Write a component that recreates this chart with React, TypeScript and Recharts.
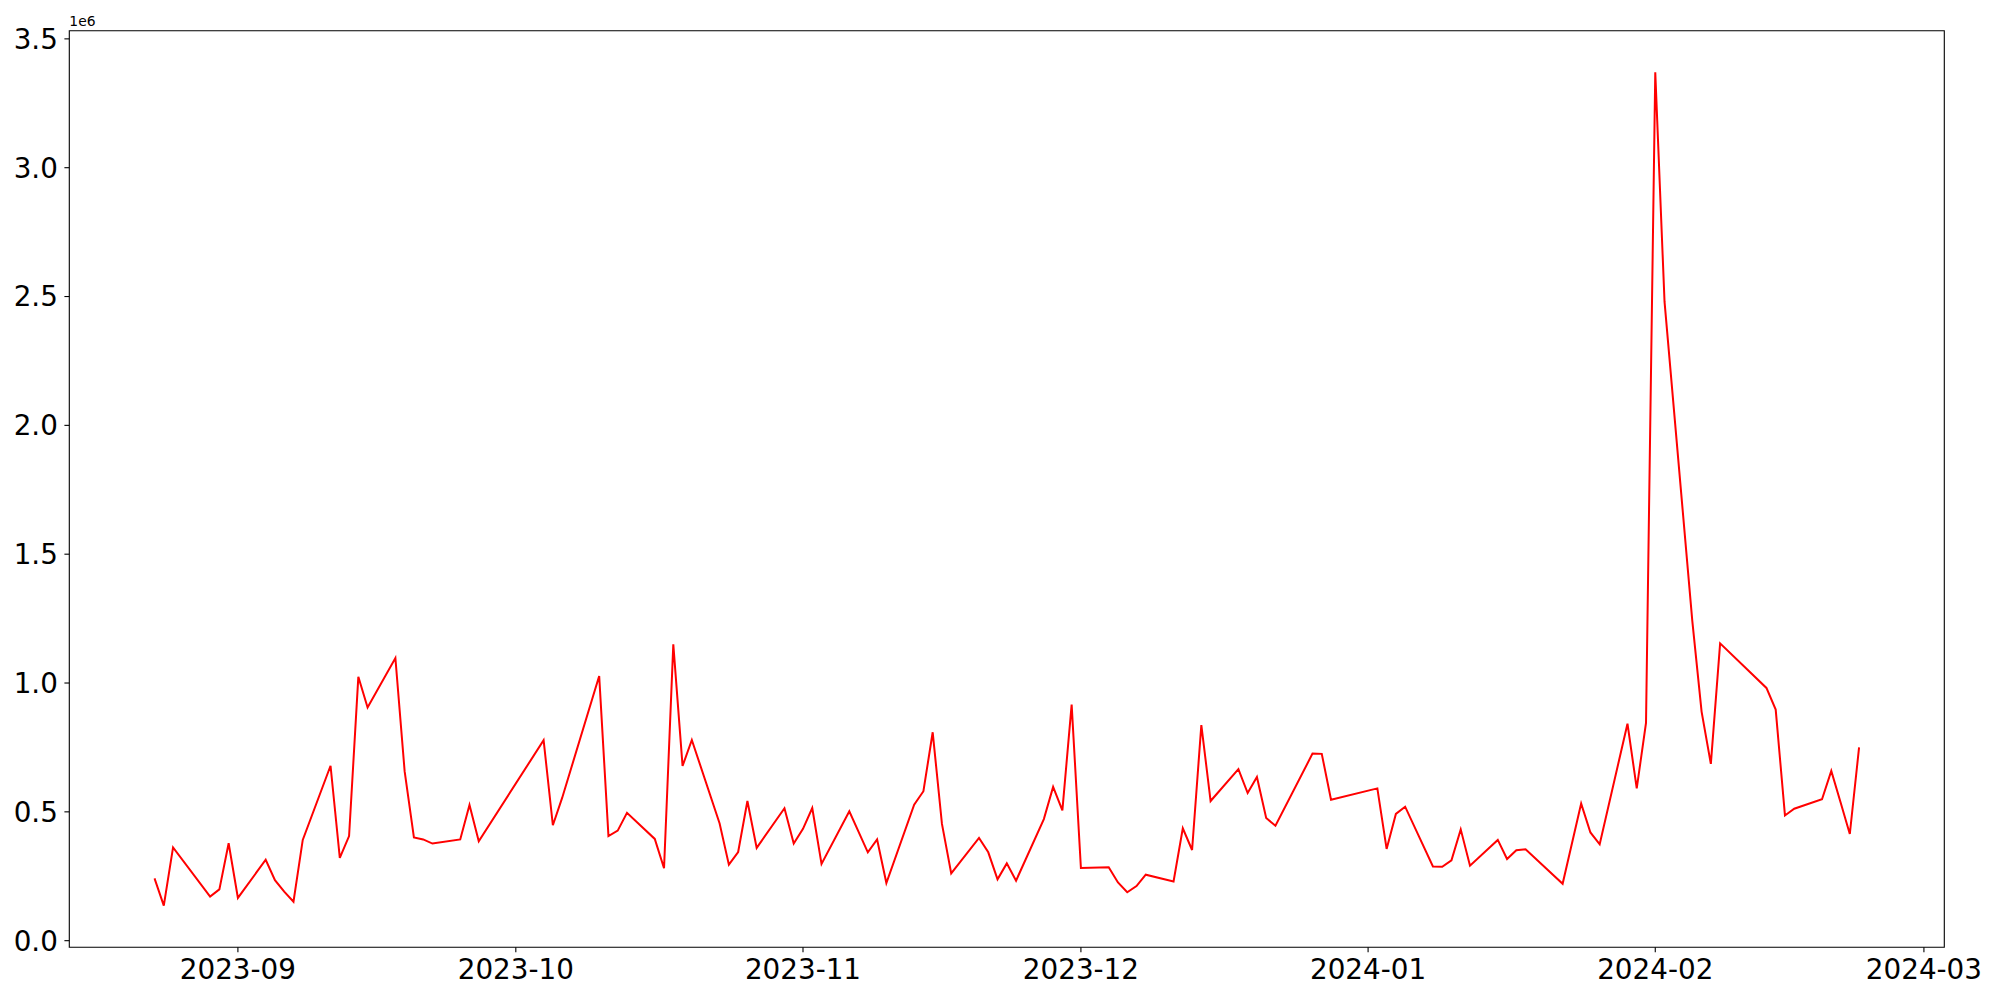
import { LineChart, Line, XAxis, YAxis, ReferenceArea } from "recharts";

// trading days and values (in units of 1e6)
const dates = [
	"2023-08-23", "2023-08-24", "2023-08-25", "2023-08-29", "2023-08-30", "2023-08-31",
	"2023-09-01", "2023-09-04", "2023-09-05", "2023-09-06", "2023-09-07", "2023-09-08",
	"2023-09-11", "2023-09-12", "2023-09-13", "2023-09-14", "2023-09-15", "2023-09-18",
	"2023-09-19", "2023-09-20", "2023-09-21", "2023-09-22", "2023-09-25", "2023-09-26",
	"2023-09-27", "2023-10-04", "2023-10-05", "2023-10-06", "2023-10-10", "2023-10-11",
	"2023-10-12", "2023-10-13", "2023-10-16", "2023-10-17", "2023-10-18", "2023-10-19",
	"2023-10-20", "2023-10-23", "2023-10-24", "2023-10-25", "2023-10-26", "2023-10-27",
	"2023-10-30", "2023-10-31", "2023-11-01", "2023-11-02", "2023-11-03", "2023-11-06",
	"2023-11-08", "2023-11-09", "2023-11-10", "2023-11-13", "2023-11-14", "2023-11-15",
	"2023-11-16", "2023-11-17", "2023-11-20", "2023-11-21", "2023-11-22", "2023-11-23",
	"2023-11-24", "2023-11-27", "2023-11-28", "2023-11-29", "2023-11-30", "2023-12-01",
	"2023-12-04", "2023-12-05", "2023-12-06", "2023-12-07", "2023-12-08", "2023-12-11",
	"2023-12-12", "2023-12-13", "2023-12-14", "2023-12-15", "2023-12-18", "2023-12-19",
	"2023-12-20", "2023-12-21", "2023-12-22", "2023-12-26", "2023-12-27", "2023-12-28",
	"2024-01-02", "2024-01-03", "2024-01-04", "2024-01-05", "2024-01-08", "2024-01-09",
	"2024-01-10", "2024-01-11", "2024-01-12", "2024-01-15", "2024-01-16", "2024-01-17",
	"2024-01-18", "2024-01-22", "2024-01-24", "2024-01-25", "2024-01-26", "2024-01-29",
	"2024-01-30", "2024-01-31", "2024-02-01", "2024-02-02", "2024-02-05", "2024-02-06",
	"2024-02-07", "2024-02-08", "2024-02-13", "2024-02-14", "2024-02-15", "2024-02-16",
	"2024-02-19", "2024-02-20", "2024-02-21", "2024-02-22", "2024-02-23",
];

const values = [
	0.242, 0.136, 0.362, 0.171, 0.199, 0.378,
	0.166, 0.314, 0.235, 0.19, 0.151, 0.391,
	0.679, 0.321, 0.406, 1.024, 0.905, 1.097,
	0.657, 0.401, 0.393, 0.377, 0.393, 0.527,
	0.386, 0.778, 0.448, 0.554, 1.027, 0.406,
	0.427, 0.496, 0.395, 0.281, 1.15, 0.678,
	0.779, 0.455, 0.295, 0.344, 0.542, 0.36,
	0.514, 0.377, 0.434, 0.515, 0.298, 0.502,
	0.343, 0.393, 0.224, 0.528, 0.58, 0.809,
	0.453, 0.261, 0.399, 0.343, 0.238, 0.3,
	0.233, 0.472, 0.597, 0.506, 0.916, 0.282,
	0.285, 0.226, 0.188, 0.212, 0.256, 0.23,
	0.436, 0.352, 0.837, 0.542, 0.666, 0.573,
	0.635, 0.476, 0.446, 0.726, 0.725, 0.547,
	0.591, 0.356, 0.492, 0.52, 0.288, 0.287,
	0.312, 0.432, 0.291, 0.391, 0.317, 0.351,
	0.355, 0.221, 0.532, 0.42, 0.374, 0.842,
	0.591, 0.845, 3.37, 2.48, 1.24, 0.889,
	0.686, 1.154, 0.981, 0.897, 0.486, 0.512,
	0.549, 0.659, 0.537, 0.414, 0.75,
];

const monthTicks = ["2023-09-01", "2023-10-01", "2023-11-01", "2023-12-01", "2024-01-01", "2024-02-01", "2024-03-01"];
const yTicks = [0, 0.5, 1, 1.5, 2, 2.5, 3, 3.5];

const data = dates.map((d, i) => ({ t: Date.parse(d), v: values[i] }));

// matplotlib-style 5% margins
const ts = data.map((d) => d.t);
const tMin = Math.min(...ts);
const tMax = Math.max(...ts);
const tPad = (tMax - tMin) * 0.05;
const vMin = Math.min(...values);
const vMax = Math.max(...values);
const vPad = (vMax - vMin) * 0.05;
const xDomain = [tMin - tPad, tMax + tPad];
const yDomain = [vMin - vPad, vMax + vPad];

const font = "DejaVu Sans";
const tickStyle = { fontSize: 27.8, fill: "#000", fontFamily: font };
const axisLine = { stroke: "#000", strokeWidth: 1.1 };

export default function App() {
	return (
		<div style={{ position: "absolute", left: 0, top: 0, width: 2000, height: 1000, background: "#fff" }}>
			<LineChart width={2000} height={1000} data={data} margin={{ top: 30.7, right: 55.7, left: 9.3, bottom: 7.7 }}>
				<XAxis
					dataKey="t"
					type="number"
					domain={xDomain}
					allowDataOverflow
					ticks={monthTicks.map((m) => Date.parse(m))}
					tickFormatter={(t) => new Date(t).toISOString().slice(0, 7)}
					tick={tickStyle}
					tickSize={4.9}
					tickMargin={7.5}
					tickLine={axisLine}
					axisLine={false}
					height={45}
				/>
				<YAxis
					type="number"
					domain={yDomain}
					allowDataOverflow
					ticks={yTicks}
					tickFormatter={(v) => v.toFixed(1)}
					tick={tickStyle}
					tickSize={4.9}
					tickMargin={6.5}
					tickLine={axisLine}
					axisLine={false}
					width={60}
					label={{
						content: () => (
							<text x={69.3} y={26} fontSize={13.9} fontFamily={font} fill="#000">
								1e6
							</text>
						),
					}}
				/>
				{/* axes frame */}
				<ReferenceArea
					x1={xDomain[0]}
					x2={xDomain[1]}
					y1={yDomain[0]}
					y2={yDomain[1]}
					fill="none"
					fillOpacity={0}
					stroke="#000"
					strokeWidth={1.1}
					ifOverflow="visible"
				/>
				<Line type="linear" dataKey="v" stroke="#ff0000" strokeWidth={2} dot={false} activeDot={false} isAnimationActive={false} />
			</LineChart>
		</div>
	);
}
